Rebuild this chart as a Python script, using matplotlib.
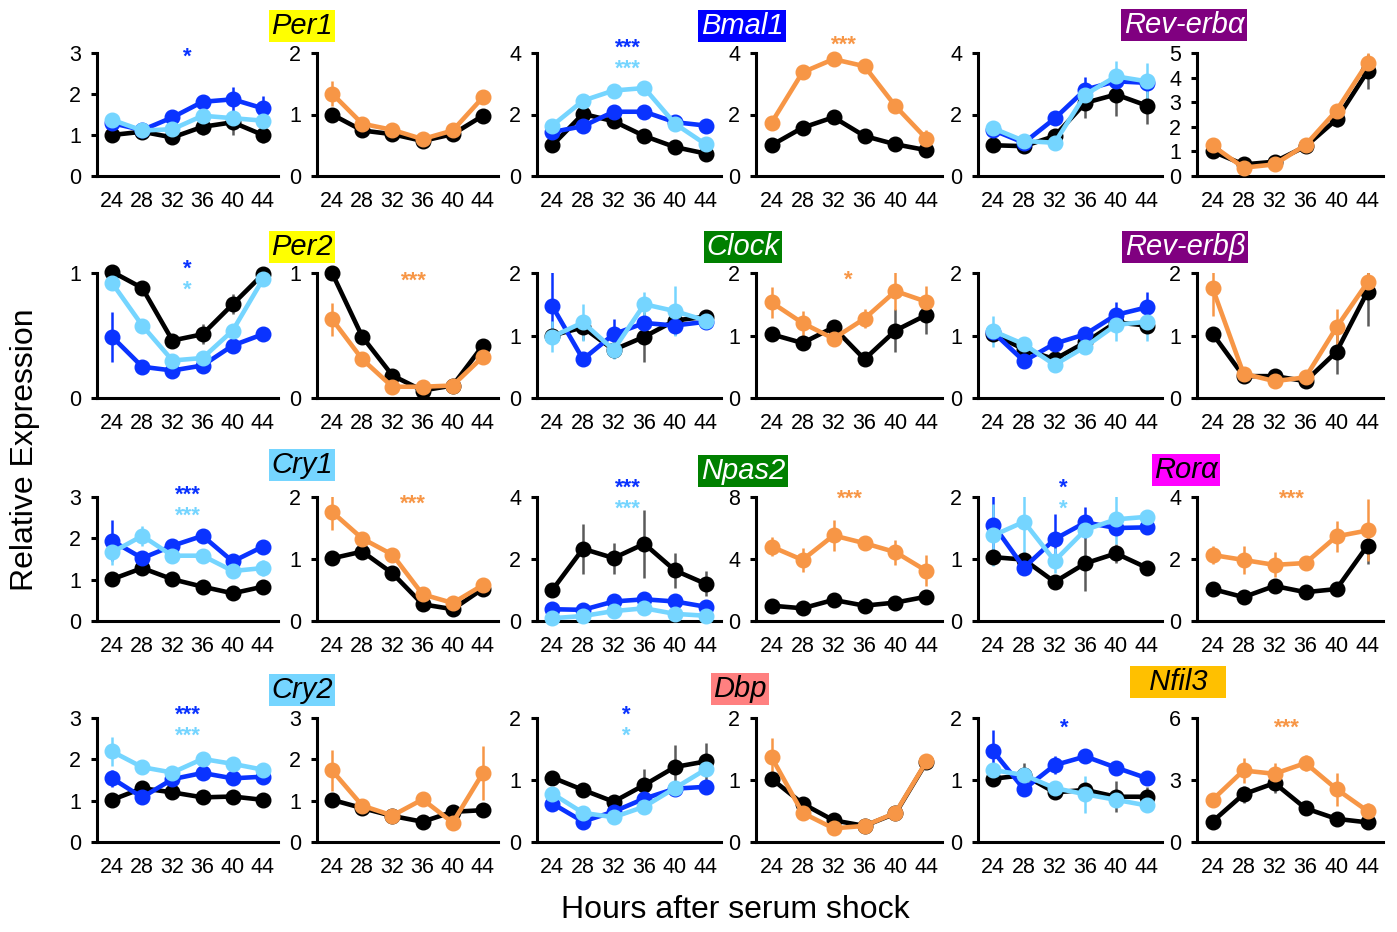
import matplotlib
matplotlib.use('Agg')
import matplotlib.pyplot as plt

plt.rcParams['font.family'] = ['Liberation Sans', 'DejaVu Sans']

hours = [24, 28, 32, 36, 40, 44]

# left panel: ctrl (black), kd1 (blue), kd2 (light blue); right panel: ctrl2 (black), oe (orange)
PER1 = {'ctrl': [1.0, 1.08, 0.94, 1.2, 1.31, 1.0], 'kd1': [1.29, 1.12, 1.43, 1.81, 1.87, 1.65],
        'kd2': [1.37, 1.11, 1.14, 1.47, 1.41, 1.35],
        'ctrl2': [1.0, 0.74, 0.68, 0.57, 0.68, 0.98], 'oe': [1.34, 0.85, 0.75, 0.6, 0.74, 1.28]}
PER1_ERR = {'ctrl': [0.05, 0.08, 0.05, 0.2, 0.3, 0.2], 'kd1': [0.05, 0.05, 0.08, 0.08, 0.29, 0.3],
            'kd2': [0.05, 0.05, 0.05, 0.05, 0.05, 0.05],
            'ctrl2': [0.03, 0.03, 0.03, 0.03, 0.05, 0.05], 'oe': [0.2, 0.05, 0.03, 0.03, 0.03, 0.1]}

BMAL1 = {'ctrl': [1.0, 2.02, 1.78, 1.3, 0.94, 0.73], 'kd1': [1.43, 1.62, 2.09, 2.09, 1.75, 1.64],
         'kd2': [1.64, 2.45, 2.78, 2.86, 1.7, 1.03],
         'ctrl2': [1.0, 1.57, 1.91, 1.3, 1.03, 0.84], 'oe': [1.73, 3.37, 3.8, 3.57, 2.27, 1.21]}
BMAL1_ERR = {'ctrl': [0.05, 0.1, 0.1, 0.1, 0.05, 0.05], 'kd1': [0.1, 0.1, 0.1, 0.1, 0.1, 0.05],
             'kd2': [0.05, 0.1, 0.1, 0.1, 0.1, 0.05],
             'ctrl2': [0.05, 0.05, 0.05, 0.05, 0.05, 0.05], 'oe': [0.05, 0.05, 0.15, 0.2, 0.2, 0.3]}

REVERBA = {'ctrl': [1.0, 0.97, 1.3, 2.38, 2.65, 2.29], 'kd1': [1.49, 1.08, 1.87, 2.81, 3.08, 3.03],
           'kd2': [1.55, 1.14, 1.08, 2.65, 3.24, 3.08],
           'ctrl2': [1.0, 0.47, 0.58, 1.2, 2.3, 4.25], 'oe': [1.24, 0.34, 0.47, 1.26, 2.66, 4.6]}
REVERBA_ERR = {'ctrl': [0.05, 0.05, 0.2, 0.5, 0.7, 0.6], 'kd1': [0.3, 0.05, 0.2, 0.4, 0.3, 0.3],
               'kd2': [0.1, 0.05, 0.05, 0.3, 0.5, 0.6],
               'ctrl2': [0.1, 0.05, 0.1, 0.2, 0.3, 0.7], 'oe': [0.1, 0.05, 0.1, 0.3, 0.2, 0.4]}

PER2 = {'ctrl': [1.01, 0.88, 0.46, 0.51, 0.75, 0.99], 'kd1': [0.49, 0.25, 0.22, 0.26, 0.42, 0.51],
        'kd2': [0.92, 0.58, 0.3, 0.32, 0.54, 0.95],
        'ctrl2': [1.0, 0.49, 0.18, 0.06, 0.1, 0.42], 'oe': [0.63, 0.31, 0.09, 0.09, 0.1, 0.33]}
PER2_ERR = {'ctrl': [0.02, 0.05, 0.03, 0.08, 0.08, 0.05], 'kd1': [0.2, 0.05, 0.02, 0.02, 0.04, 0.04],
            'kd2': [0.05, 0.02, 0.02, 0.02, 0.02, 0.03],
            'ctrl2': [0.02, 0.02, 0.02, 0.02, 0.02, 0.03], 'oe': [0.13, 0.02, 0.02, 0.02, 0.02, 0.03]}

CLOCK = {'ctrl': [1.0, 1.13, 0.77, 0.98, 1.24, 1.3], 'kd1': [1.47, 0.62, 1.02, 1.2, 1.16, 1.22],
         'kd2': [0.98, 1.21, 0.77, 1.5, 1.39, 1.24],
         'ctrl2': [1.02, 0.88, 1.13, 0.62, 1.08, 1.33], 'oe': [1.53, 1.2, 0.95, 1.27, 1.71, 1.54]}
CLOCK_ERR = {'ctrl': [0.05, 0.2, 0.05, 0.4, 0.1, 0.05], 'kd1': [0.55, 0.05, 0.25, 0.1, 0.15, 0.1],
             'kd2': [0.25, 0.3, 0.15, 0.2, 0.4, 0.05],
             'ctrl2': [0.03, 0.03, 0.05, 0.03, 0.35, 0.3], 'oe': [0.25, 0.2, 0.1, 0.15, 0.3, 0.25]}

REVERBB = {'ctrl': [1.02, 0.78, 0.62, 0.89, 1.21, 1.16], 'kd1': [1.05, 0.59, 0.87, 1.02, 1.33, 1.45],
           'kd2': [1.07, 0.86, 0.53, 0.82, 1.17, 1.22],
           'ctrl2': [1.03, 0.35, 0.35, 0.27, 0.74, 1.7], 'oe': [1.76, 0.39, 0.27, 0.33, 1.13, 1.85]}
REVERBB_ERR = {'ctrl': [0.05, 0.05, 0.05, 0.15, 0.05, 0.1], 'kd1': [0.05, 0.05, 0.05, 0.1, 0.2, 0.25],
               'kd2': [0.25, 0.05, 0.05, 0.05, 0.25, 0.3],
               'ctrl2': [0.03, 0.03, 0.03, 0.03, 0.35, 0.55], 'oe': [0.45, 0.03, 0.03, 0.03, 0.3, 0.2]}

CRY1 = {'ctrl': [1.01, 1.28, 1.01, 0.83, 0.67, 0.83], 'kd1': [1.94, 1.52, 1.82, 2.06, 1.44, 1.8],
        'kd2': [1.66, 2.06, 1.58, 1.58, 1.21, 1.28],
        'ctrl2': [1.01, 1.12, 0.77, 0.27, 0.19, 0.52], 'oe': [1.76, 1.33, 1.07, 0.43, 0.29, 0.58]}
CRY1_ERR = {'ctrl': [0.05, 0.1, 0.05, 0.15, 0.05, 0.05], 'kd1': [0.5, 0.05, 0.05, 0.1, 0.05, 0.1],
            'kd2': [0.3, 0.25, 0.05, 0.05, 0.15, 0.2],
            'ctrl2': [0.03, 0.03, 0.03, 0.03, 0.03, 0.03], 'oe': [0.3, 0.05, 0.03, 0.03, 0.03, 0.03]}

NPAS2 = {'ctrl': [1.0, 2.33, 2.03, 2.49, 1.63, 1.2], 'kd1': [0.38, 0.36, 0.63, 0.7, 0.63, 0.46],
         'kd2': [0.09, 0.16, 0.32, 0.41, 0.23, 0.17],
         'ctrl2': [0.99, 0.82, 1.36, 0.99, 1.19, 1.57], 'oe': [4.8, 3.94, 5.52, 5.02, 4.44, 3.23]}
NPAS2_ERR = {'ctrl': [0.05, 0.8, 0.5, 1.1, 0.55, 0.4], 'kd1': [0.05, 0.05, 0.05, 0.05, 0.05, 0.05],
             'kd2': [0.03, 0.03, 0.03, 0.03, 0.03, 0.03],
             'ctrl2': [0.05, 0.05, 0.1, 0.05, 0.1, 0.1], 'oe': [0.6, 0.8, 1.0, 0.1, 0.8, 1.0]}

RORA = {'ctrl': [1.03, 0.99, 0.63, 0.93, 1.09, 0.86], 'kd1': [1.55, 0.86, 1.32, 1.59, 1.5, 1.51],
        'kd2': [1.38, 1.6, 0.97, 1.47, 1.64, 1.68],
        'ctrl2': [1.03, 0.77, 1.13, 0.93, 1.03, 2.43], 'oe': [2.13, 1.97, 1.81, 1.87, 2.73, 2.92]}
RORA_ERR = {'ctrl': [0.05, 0.05, 0.05, 0.45, 0.15, 0.05], 'kd1': [0.5, 0.1, 0.4, 0.25, 0.1, 0.1],
            'kd2': [0.5, 0.5, 0.2, 0.1, 0.4, 0.05],
            'ctrl2': [0.05, 0.05, 0.05, 0.05, 0.15, 0.6], 'oe': [0.3, 0.45, 0.4, 0.1, 0.5, 1.0]}

CRY2 = {'ctrl': [1.02, 1.3, 1.2, 1.08, 1.1, 1.02], 'kd1': [1.54, 1.08, 1.52, 1.67, 1.54, 1.58],
        'kd2': [2.19, 1.81, 1.68, 2.01, 1.89, 1.75],
        'ctrl2': [1.02, 0.82, 0.63, 0.49, 0.73, 0.77], 'oe': [1.73, 0.88, 0.64, 1.03, 0.47, 1.67]}
CRY2_ERR = {'ctrl': [0.05, 0.05, 0.05, 0.15, 0.1, 0.05], 'kd1': [0.2, 0.05, 0.05, 0.15, 0.05, 0.05],
            'kd2': [0.35, 0.1, 0.05, 0.05, 0.05, 0.1],
            'ctrl2': [0.05, 0.05, 0.05, 0.05, 0.05, 0.05], 'oe': [0.5, 0.05, 0.05, 0.1, 0.05, 0.65]}

DBP = {'ctrl': [1.04, 0.84, 0.65, 0.92, 1.21, 1.3], 'kd1': [0.62, 0.33, 0.49, 0.7, 0.86, 0.89],
       'kd2': [0.78, 0.47, 0.4, 0.57, 0.87, 1.17],
       'ctrl2': [1.02, 0.62, 0.35, 0.26, 0.46, 1.29], 'oe': [1.37, 0.47, 0.22, 0.26, 0.47, 1.3]}
DBP_ERR = {'ctrl': [0.03, 0.1, 0.05, 0.25, 0.35, 0.3], 'kd1': [0.1, 0.03, 0.03, 0.05, 0.1, 0.05],
           'kd2': [0.03, 0.03, 0.03, 0.05, 0.05, 0.05],
           'ctrl2': [0.03, 0.03, 0.03, 0.03, 0.03, 0.05], 'oe': [0.3, 0.03, 0.03, 0.03, 0.03, 0.03]}

NFIL3 = {'ctrl': [1.02, 1.08, 0.8, 0.84, 0.73, 0.73], 'kd1': [1.46, 0.85, 1.24, 1.38, 1.2, 1.03],
         'kd2': [1.16, 1.08, 0.87, 0.77, 0.68, 0.59],
         'ctrl2': [0.99, 2.31, 2.85, 1.63, 1.12, 0.95], 'oe': [2.04, 3.46, 3.3, 3.82, 2.56, 1.5]}
NFIL3_ERR = {'ctrl': [0.05, 0.2, 0.05, 0.1, 0.25, 0.15], 'kd1': [0.35, 0.1, 0.15, 0.1, 0.1, 0.1],
             'kd2': [0.05, 0.05, 0.05, 0.3, 0.05, 0.05],
             'ctrl2': [0.1, 0.4, 0.5, 0.1, 0.2, 0.1], 'oe': [0.1, 0.6, 0.5, 0.4, 0.8, 0.4]}

# gene name, title box colour, title text colour, data, errors, left ticks, right ticks
genes = [
    [('Per1', '#FFFF00', 'black', PER1, PER1_ERR, [0, 1, 2, 3], [0, 1, 2]),
     ('Bmal1', '#0000FF', 'white', BMAL1, BMAL1_ERR, [0, 2, 4], [0, 2, 4]),
     ('Rev-erbα', '#800080', 'white', REVERBA, REVERBA_ERR, [0, 2, 4], [0, 1, 2, 3, 4, 5])],
    [('Per2', '#FFFF00', 'black', PER2, PER2_ERR, [0, 1], [0, 1]),
     ('Clock', '#008000', 'white', CLOCK, CLOCK_ERR, [0, 1, 2], [0, 1, 2]),
     ('Rev-erbβ', '#800080', 'white', REVERBB, REVERBB_ERR, [0, 1, 2], [0, 1, 2])],
    [('Cry1', '#75D5FF', 'black', CRY1, CRY1_ERR, [0, 1, 2, 3], [0, 1, 2]),
     ('Npas2', '#008000', 'white', NPAS2, NPAS2_ERR, [0, 2, 4], [0, 4, 8]),
     ('Rorα', '#FF00FF', 'black', RORA, RORA_ERR, [0, 1, 2], [0, 2, 4])],
    [('Cry2', '#75D5FF', 'black', CRY2, CRY2_ERR, [0, 1, 2, 3], [0, 1, 2, 3]),
     ('Dbp', '#FF8080', 'black', DBP, DBP_ERR, [0, 1, 2], [0, 1, 2]),
     ('  Nfil3  ', '#FFC000', 'black', NFIL3, NFIL3_ERR, [0, 1, 2], [0, 3, 6])],
]

# significance marks: (text, series, x hour, offset of glyph centre below axes top in px)
left_marks = [
    [[('*', 'kd1', 34, -3)], [('***', 'kd1', 33.8, -12), ('***', 'kd2', 33.8, 9.5)], []],
    [[('*', 'kd1', 34, -11), ('*', 'kd2', 34, 10.5)], [], []],
    [[('***', 'kd1', 34, -9), ('***', 'kd2', 34, 12.5)], [('***', 'kd1', 33.8, -16), ('***', 'kd2', 33.8, 5.5)],
     [('*', 'kd1', 33.1, -16), ('*', 'kd2', 33.1, 5.5)]],
    [[('***', 'kd1', 34, -10), ('***', 'kd2', 34, 11.5)], [('*', 'kd1', 33.6, -10), ('*', 'kd2', 33.6, 11.5)],
     [('*', 'kd1', 33.3, 3)]],
]
right_marks = [
    [[], [('***', 'oe', 33.3, -15)], []],
    [[('***', 'oe', 34.8, 1)], [('*', 'oe', 33.9, 0)], []],
    [[('***', 'oe', 34.7, 0)], [('***', 'oe', 34.1, -5)], [('***', 'oe', 34.3, -5)]],
    [[], [], [('***', 'oe', 33.6, 3)]],
]

colors = {'ctrl': 'black', 'kd1': '#0A33FF', 'kd2': '#75D5FF', 'ctrl2': 'black', 'oe': '#F79646'}
err_colors = {'ctrl': '#5A5A5A', 'kd1': '#0A33FF', 'kd2': '#75D5FF', 'ctrl2': '#5A5A5A', 'oe': '#F79646'}

W, H = 1397, 932
col_l = [97, 317, 537, 756, 978, 1197]
col_r = [278, 498, 721, 942, 1162, 1383]
row_t = [53, 273, 497, 718]
row_b = [176, 398, 621, 842]
title_xy = [[(302, 26), (742, 26), (1184, 25)],
            [(302, 247), (743, 247), (1185, 247)],
            [(302, 465), (743, 471), (1186, 470)],
            [(302, 690), (740, 689), (1178, 682)]]

fig = plt.figure(figsize=(W / 100, H / 100), dpi=100)


def draw_panel(ax, data, err, keys, ticks, marks):
    for k in keys:
        ax.errorbar(hours, data[k], yerr=err[k], fmt='none', ecolor=err_colors[k],
                    elinewidth=1.8, capsize=0, zorder=2)
        ax.plot(hours, data[k], color=colors[k], lw=3.3, marker='o', ms=10.5,
                clip_on=False, zorder=3)
    ax.set_xlim(22, 46)
    ax.set_ylim(0, ticks[-1])
    ax.set_yticks(ticks)
    ax.set_xticks(hours)
    for s in ['top', 'right']:
        ax.spines[s].set_visible(False)
    for s in ['left', 'bottom']:
        ax.spines[s].set_linewidth(2.2)
    ax.tick_params(axis='x', length=0, pad=11, labelsize=15.5)
    ax.tick_params(axis='y', length=4.5, width=2.2, pad=7, labelsize=15.5, direction='out')
    for txt, k, xh, d in marks:
        ax.annotate(txt, xy=(xh, 1), xycoords=('data', 'axes fraction'),
                    xytext=(0, -(d + 12.7) * 0.72), textcoords='offset points',
                    ha='center', va='baseline', color=colors[k], fontsize=16,
                    fontweight='bold', annotation_clip=False)


for r in range(4):
    for g in range(3):
        name, bg, fg, data, err, lt, rt = genes[r][g]
        for side in range(2):
            c = 2 * g + side
            rect = [col_l[c] / W, 1 - row_b[r] / H, (col_r[c] - col_l[c]) / W, (row_b[r] - row_t[r]) / H]
            ax = fig.add_axes(rect)
            if side == 0:
                draw_panel(ax, data, err, ['ctrl', 'kd1', 'kd2'], lt, left_marks[r][g])
            else:
                draw_panel(ax, data, err, ['ctrl2', 'oe'], rt, right_marks[r][g])
        tx, ty = title_xy[r][g]
        fig.text(tx / W, 1 - ty / H, name, ha='center', va='center', fontsize=21,
                 style='italic', color=fg,
                 bbox=dict(boxstyle='square,pad=0.08', fc=bg, ec='none'))

fig.text(25 / W, 1 - 450 / H, 'Relative Expression', rotation=90, ha='center', va='center', fontsize=23)
fig.text(735 / W, 1 - 910 / H, 'Hours after serum shock', ha='center', va='center', fontsize=23)

fig.savefig('out.png', dpi=100)
